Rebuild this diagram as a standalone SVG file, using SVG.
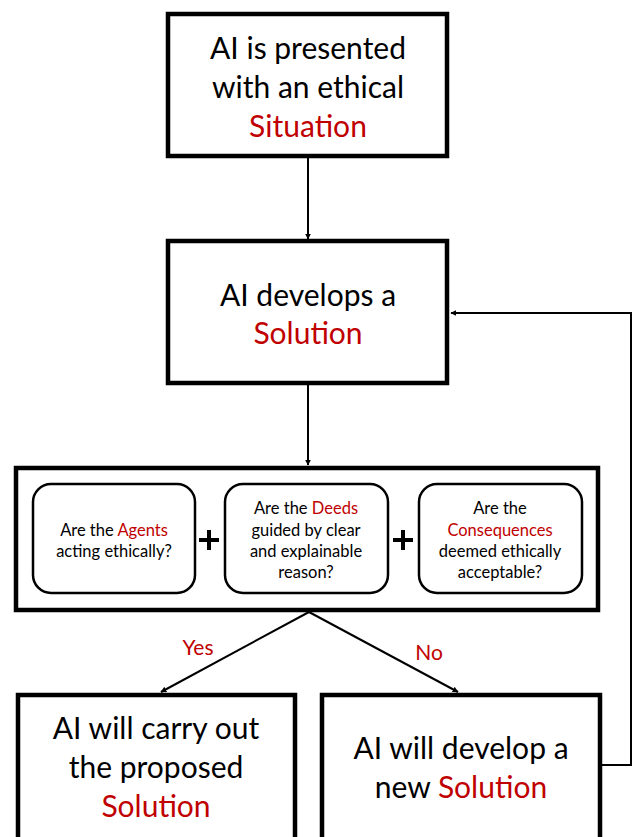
<svg xmlns="http://www.w3.org/2000/svg" width="633" height="837" viewBox="0 0 633 837">
<defs>
<marker id="ah" viewBox="0 0 10 10" refX="9" refY="5" markerWidth="6" markerHeight="6" orient="auto-start-reverse" markerUnits="userSpaceOnUse">
<path d="M0,0 L10,5 L0,10 z" fill="#000"/>
</marker>
<style>
.box{fill:#fff;stroke:#000;stroke-width:4.5}
.rbox{fill:#fff;stroke:#000;stroke-width:2.5}
.big{font-family:Lato,"Liberation Sans",sans-serif;font-size:30px;fill:#000;text-anchor:middle}
.small{font-family:Lato,"Liberation Sans",sans-serif;font-size:16.5px;fill:#000;text-anchor:middle}
.lbl{font-family:Lato,"Liberation Sans",sans-serif;font-size:21px;fill:#C00000;text-anchor:middle}
.red{fill:#C00000}
.conn{fill:none;stroke:#000;stroke-width:2}
.plus{fill:none;stroke:#000;stroke-width:4}
</style>
</defs>
<rect width="633" height="837" fill="#fff"/>
<g id="connectors">
<line class="conn" x1="308" y1="158" x2="308" y2="239" marker-end="url(#ah)"/>
<line class="conn" x1="308" y1="385" x2="308" y2="465" marker-end="url(#ah)"/>
<polyline class="conn" points="602,765 631,765 631,313 451,313" marker-end="url(#ah)"/>
<line class="conn" x1="309" y1="612" x2="161" y2="692" marker-end="url(#ah)"/>
<line class="conn" x1="309" y1="612" x2="458" y2="692" marker-end="url(#ah)"/>
<text class="lbl" x="198" y="655">Yes</text>
<text class="lbl" x="429" y="660">No</text>
</g>
<g id="situation">
<rect class="box" x="168" y="14" width="279" height="142"/>
<text class="big" x="308" y="59">AI is presented</text>
<text class="big" x="308" y="98">with an ethical</text>
<text class="big" x="308" y="137"><tspan class="red">Situation</tspan></text>
</g>
<g id="develops">
<rect class="box" x="168" y="241" width="279" height="142"/>
<text class="big" x="308" y="306">AI develops a</text>
<text class="big" x="308" y="344"><tspan class="red">Solution</tspan></text>
</g>
<g id="evaluation">
<rect class="box" x="16" y="468" width="582" height="142"/>
<g id="agents">
<rect class="rbox" x="33" y="484" width="162" height="109" rx="18"/>
<text class="small" x="114" y="536">Are the <tspan class="red">Agents</tspan></text>
<text class="small" x="114" y="557">acting ethically?</text>
</g>
<path class="plus" d="M199,540 h20 M209,530 v20"/>
<g id="deeds">
<rect class="rbox" x="225" y="484" width="163" height="109" rx="18"/>
<text class="small" x="306" y="514">Are the <tspan class="red">Deeds</tspan></text>
<text class="small" x="306" y="536">guided by clear</text>
<text class="small" x="306" y="557">and explainable</text>
<text class="small" x="306" y="578">reason?</text>
</g>
<path class="plus" d="M393,540 h20 M403,530 v20"/>
<g id="consequences">
<rect class="rbox" x="419" y="484" width="163" height="109" rx="18"/>
<text class="small" x="500" y="514">Are the</text>
<text class="small" x="500" y="536"><tspan class="red">Consequences</tspan></text>
<text class="small" x="500" y="557">deemed ethically</text>
<text class="small" x="500" y="578">acceptable?</text>
</g>
</g>
<g id="carryout">
<rect class="box" x="18" y="695" width="277" height="150"/>
<text class="big" x="156" y="739">AI will carry out</text>
<text class="big" x="156" y="778">the proposed</text>
<text class="big" x="156" y="817"><tspan class="red">Solution</tspan></text>
</g>
<g id="newsolution">
<rect class="box" x="322" y="695" width="278" height="150"/>
<text class="big" x="461" y="759">AI will develop a</text>
<text class="big" x="461" y="798">new <tspan class="red">Solution</tspan></text>
</g>
</svg>
